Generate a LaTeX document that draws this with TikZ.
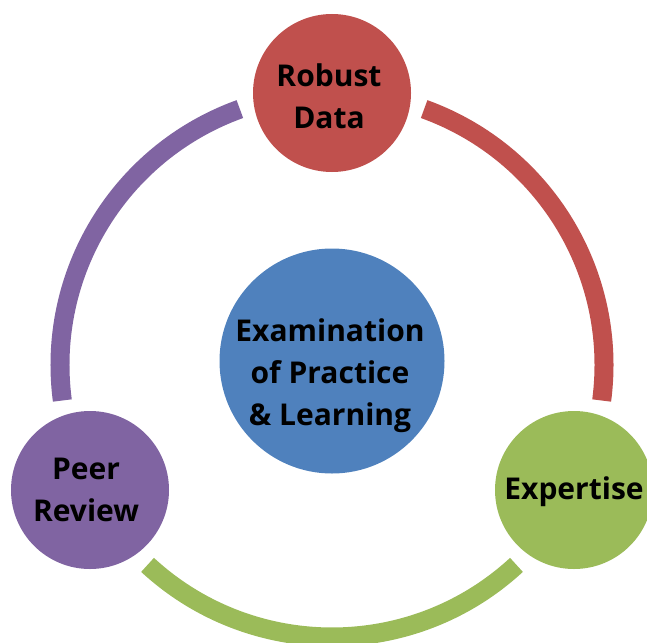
\documentclass[tikz,border=0pt]{standalone}
\usepackage{fontspec}
\setmainfont{Open Sans}
\definecolor{cRed}{RGB}{192,80,77}
\definecolor{cGreen}{RGB}{155,187,89}
\definecolor{cPurple}{RGB}{128,100,162}
\definecolor{cBlue}{RGB}{79,129,189}
\begin{document}
\begin{tikzpicture}[x=1pt,y=1pt,
  bubble/.style={circle, minimum size=158pt, inner sep=0pt},
  label text/.style={align=center, inner sep=0pt, text=black,
    font=\fontsize{30}{42}\selectfont\bfseries},
  ringarc/.style={line width=19pt}]
\useasboundingbox (0,0) rectangle (647,-642);
\coordinate (c) at (332,-365);
% ring segments
\draw[ringarc, cPurple] (c) ++(109.8:272) arc[start angle=109.8, end angle=187.5, radius=272];
\draw[ringarc, cGreen]  (c) ++(227.3:272) arc[start angle=227.3, end angle=312.7, radius=272];
\draw[ringarc, cRed]    (c) ++(-7.5:272)  arc[start angle=-7.5,  end angle=70.2,  radius=272];
% circles
\node[bubble, fill=cRed]    (data) at (332,-93)  {};
\node[bubble, fill=cPurple] (peer) at (90,-490)  {};
\node[bubble, fill=cGreen]  (exp)  at (574,-490) {};
\node[bubble, fill=cBlue, minimum size=225pt] (core) at (332,-361) {};
% texts
\node[label text] (datatext) at ([xshift=-3pt,yshift=-3pt]data.center) {Robust\\Data};
\node[label text] (peertext) at ([xshift=-4pt]peer.center) {Peer\\Review};
\node[label text] (exptext)  at ([yshift=-1.5pt]exp.center) {Expertise};
\node[label text] (coretext) at ([xshift=-2pt,yshift=-15pt]core.center) {Examination\\of Practice\\\& Learning};
\end{tikzpicture}
\end{document}
